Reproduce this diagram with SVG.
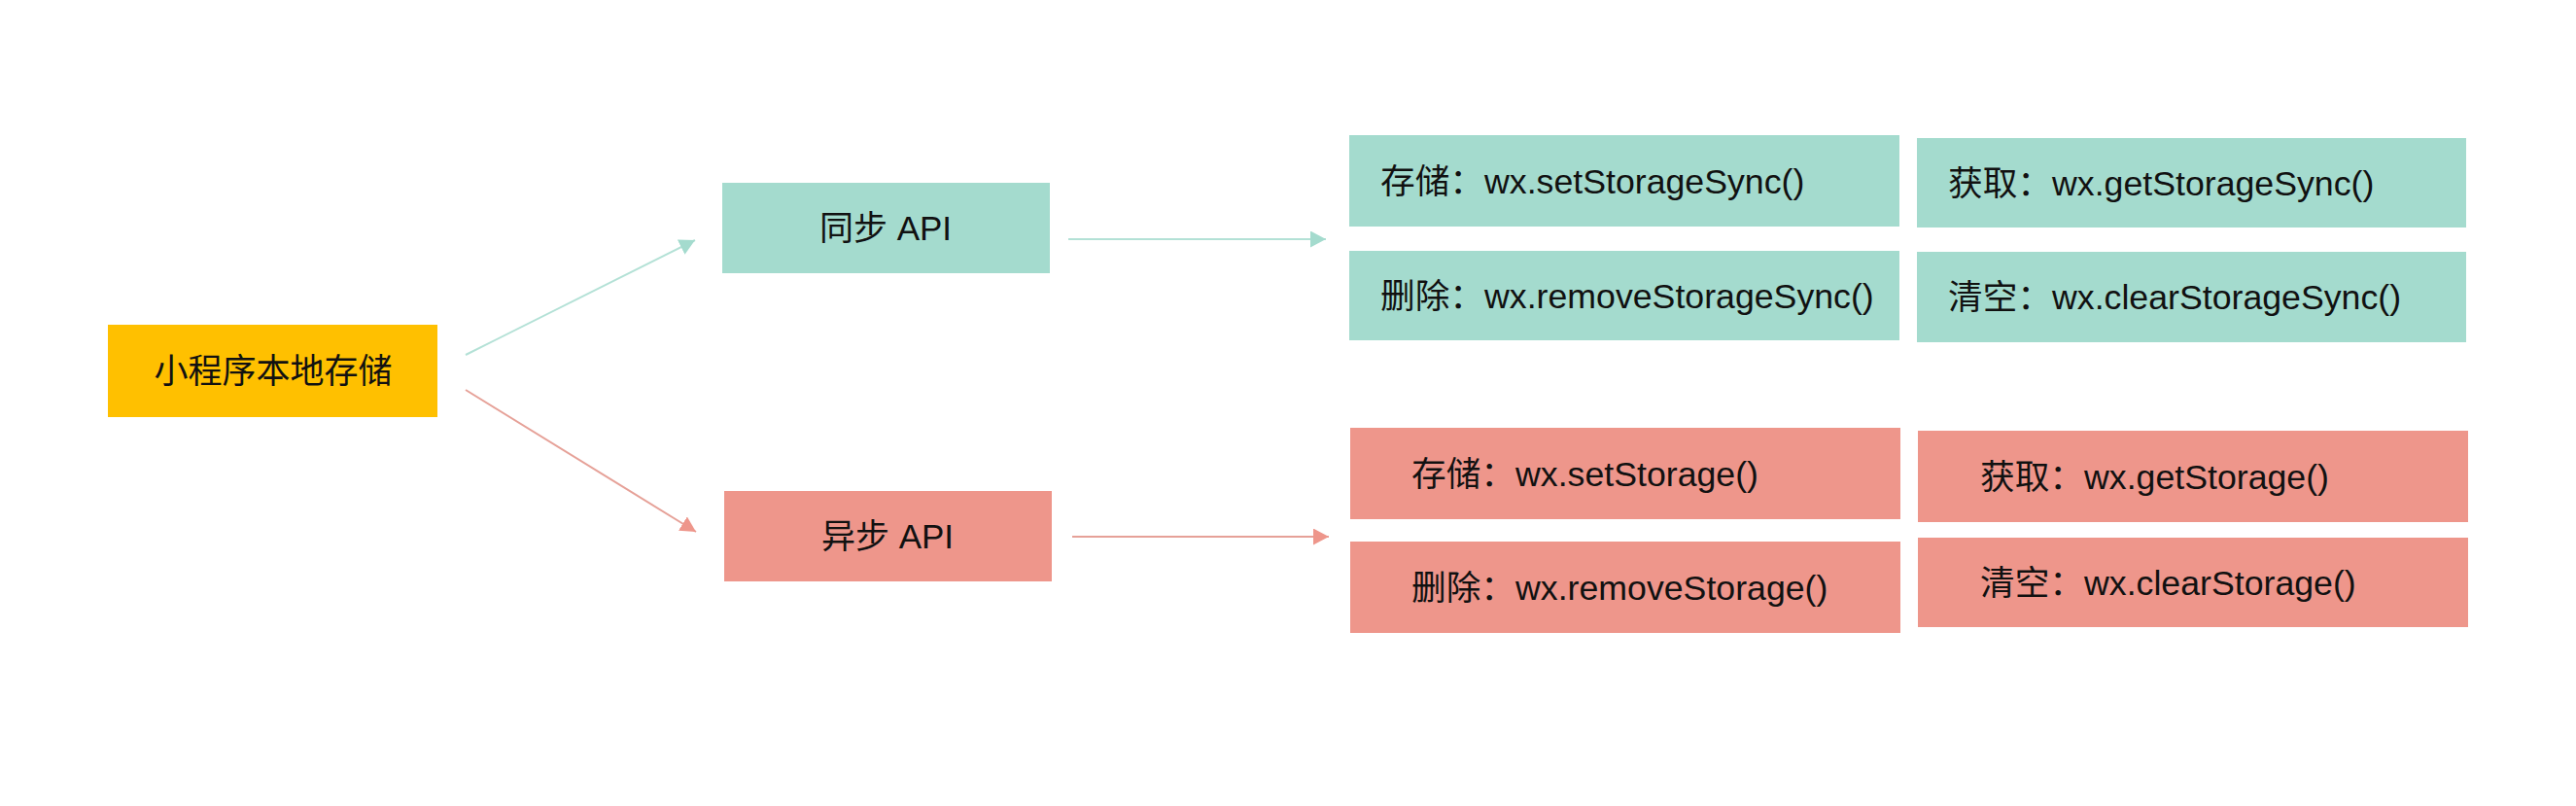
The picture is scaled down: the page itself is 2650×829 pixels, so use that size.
<svg xmlns="http://www.w3.org/2000/svg" width="2650" height="829" viewBox="0 0 2650 829">
<style>
text{font-family:"Liberation Sans","Noto Sans CJK SC",sans-serif;font-size:35px;fill:#111;}
.b{font-size:35.7px;}
.c{text-anchor:middle;}
.sync{fill:#A4DBCE;}
.async{fill:#EE968B;}
.root{fill:#FFC000;}
.lt{stroke:#B3E1D6;stroke-width:2;fill:none;}
.lr{stroke:#E6A198;stroke-width:2;fill:none;}
</style>
<defs>
<marker id="at" markerWidth="17" markerHeight="17" refX="16" refY="8.5" orient="auto" markerUnits="userSpaceOnUse">
<path d="M0,0 L16,8.5 L0,17 Z" fill="#A4DBCE"/>
</marker>
<marker id="ar" markerWidth="17" markerHeight="17" refX="16" refY="8.5" orient="auto" markerUnits="userSpaceOnUse">
<path d="M0,0 L16,8.5 L0,17 Z" fill="#EE968B"/>
</marker>
</defs>
<rect width="2650" height="829" fill="#fff"/>
<g id="connectors">
<line class="lt" x1="479" y1="365" x2="715" y2="247" marker-end="url(#at)"/>
<line class="lr" x1="479" y1="401" x2="716" y2="547" marker-end="url(#ar)"/>
<line class="lt" x1="1099" y1="246" x2="1364" y2="246" marker-end="url(#at)"/>
<line class="lr" x1="1103" y1="552" x2="1367" y2="552" marker-end="url(#ar)"/>
</g>
<g id="root">
<rect class="root" x="111" y="334" width="339" height="95"/>
<text class="c" x="281" y="394">小程序本地存储</text>
</g>
<g id="sync">
<rect class="sync" x="743" y="188" width="337" height="93"/>
<text class="c" x="911" y="247">同步 API</text>
</g>
<g id="async">
<rect class="async" x="745" y="505" width="337" height="93"/>
<text class="c" x="913" y="564">异步 API</text>
</g>
<g id="sync-set">
<rect class="sync" x="1388" y="139" width="566" height="94"/>
<text class="b" x="1420" y="199">存储：wx.setStorageSync()</text>
</g>
<g id="sync-get">
<rect class="sync" x="1972" y="142" width="565" height="92"/>
<text class="b" x="2004" y="201">获取：wx.getStorageSync()</text>
</g>
<g id="sync-remove">
<rect class="sync" x="1388" y="258" width="566" height="92"/>
<text class="b" x="1420" y="317">删除：wx.removeStorageSync()</text>
</g>
<g id="sync-clear">
<rect class="sync" x="1972" y="259" width="565" height="93"/>
<text class="b" x="2004" y="318">清空：wx.clearStorageSync()</text>
</g>
<g id="async-set">
<rect class="async" x="1389" y="440" width="566" height="94"/>
<text class="b" x="1452" y="500">存储：wx.setStorage()</text>
</g>
<g id="async-get">
<rect class="async" x="1973" y="443" width="566" height="94"/>
<text class="b" x="2037" y="503">获取：wx.getStorage()</text>
</g>
<g id="async-remove">
<rect class="async" x="1389" y="557" width="566" height="94"/>
<text class="b" x="1452" y="617">删除：wx.removeStorage()</text>
</g>
<g id="async-clear">
<rect class="async" x="1973" y="553" width="566" height="92"/>
<text class="b" x="2037" y="612">清空：wx.clearStorage()</text>
</g>
</svg>
